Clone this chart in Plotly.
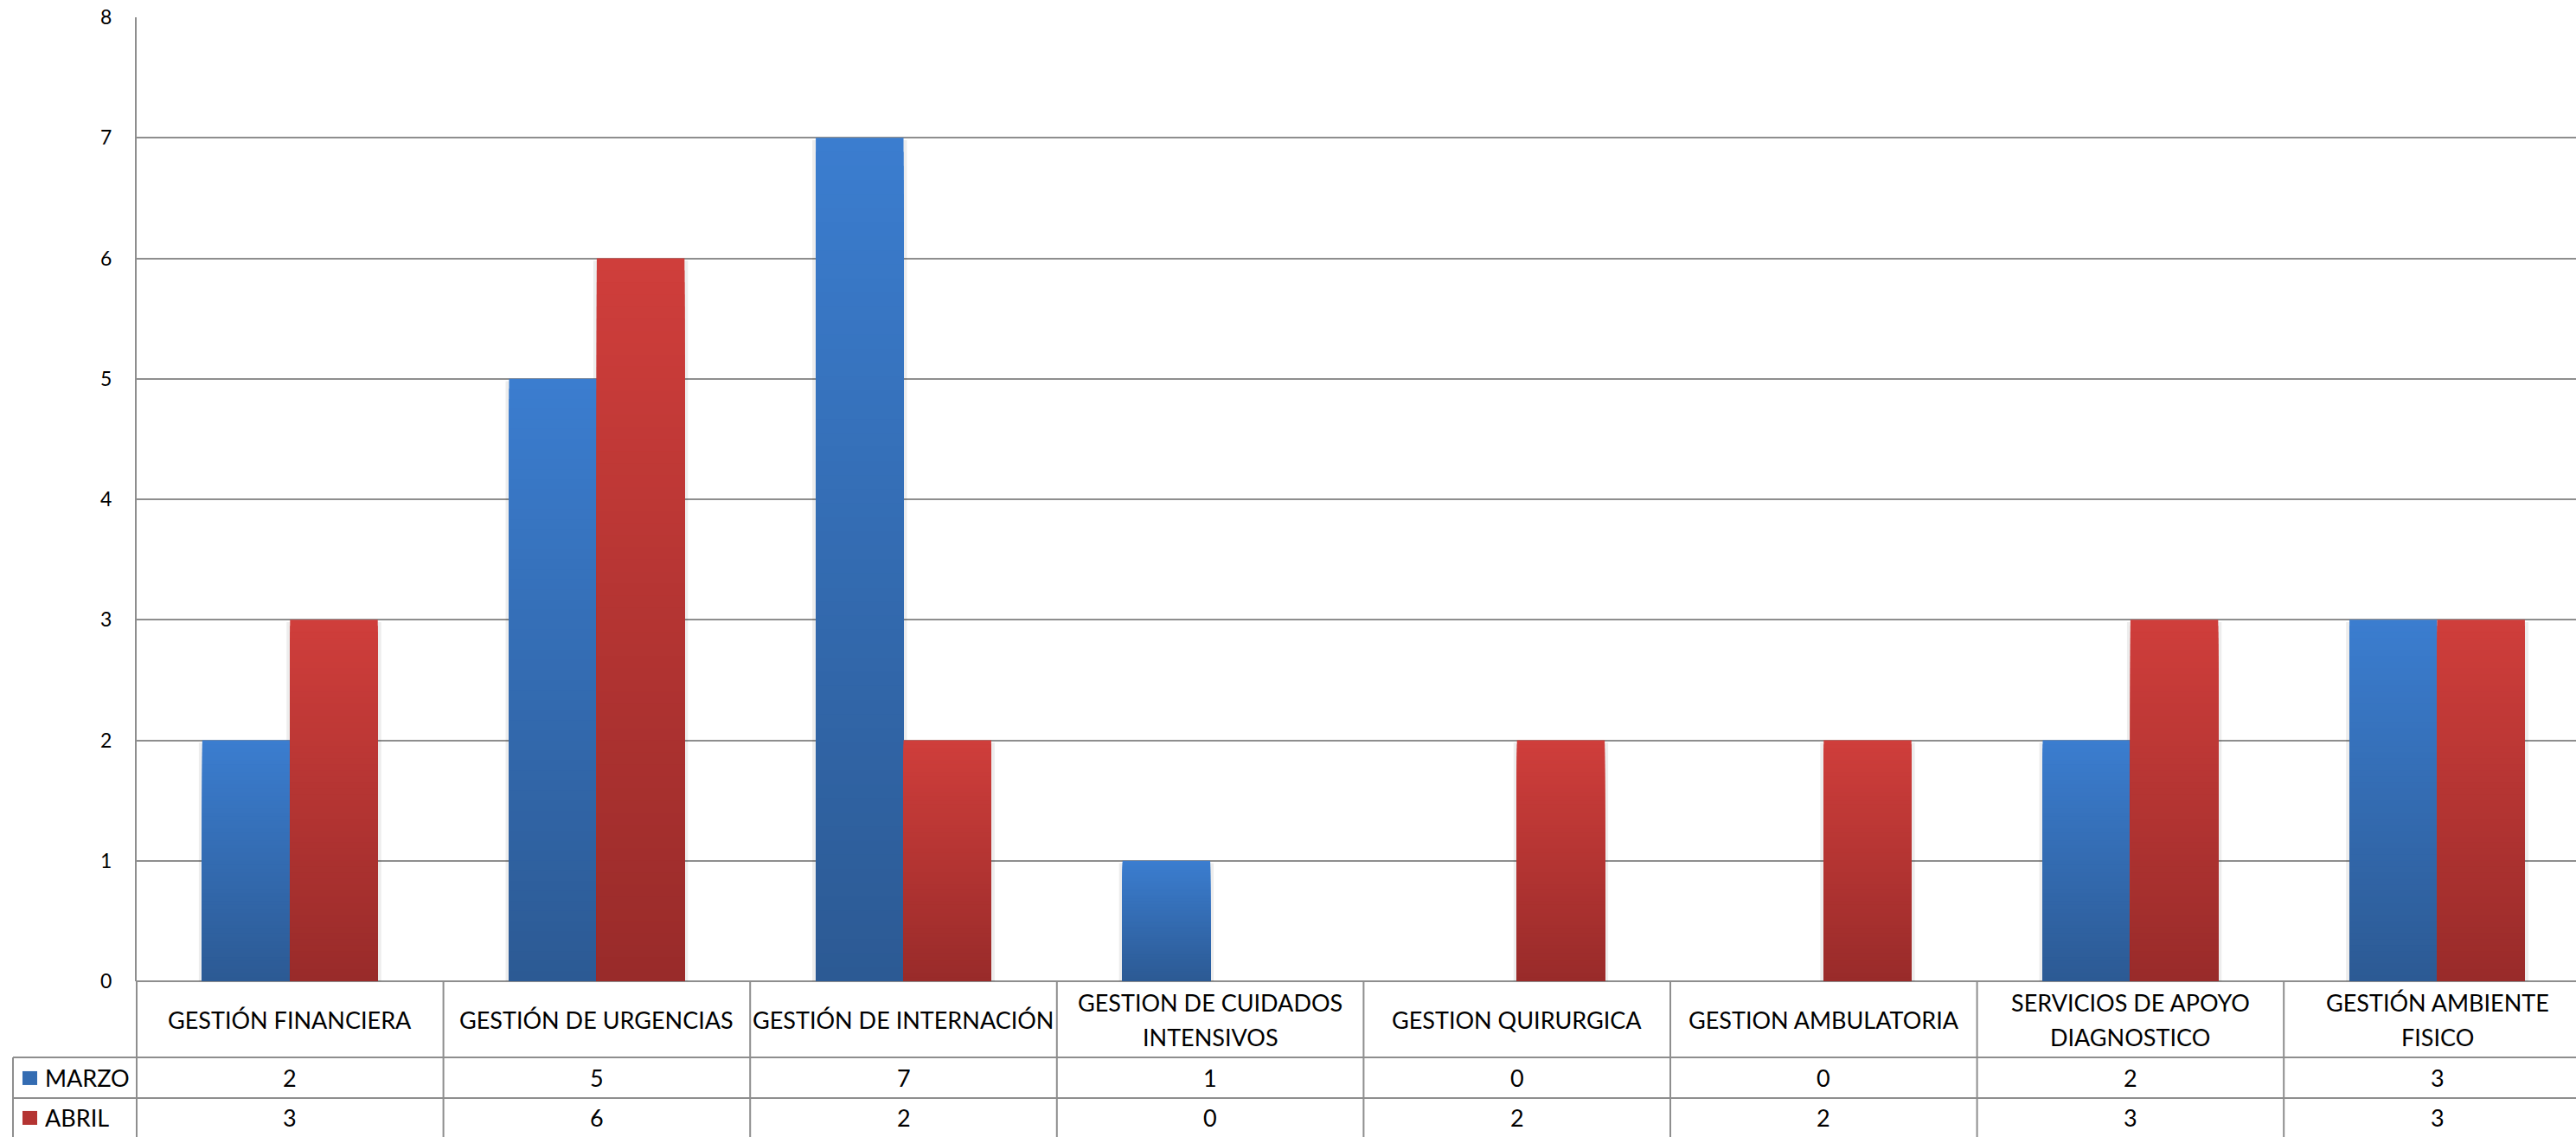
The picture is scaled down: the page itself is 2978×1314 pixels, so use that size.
import plotly.graph_objects as go

# --- data -------------------------------------------------------------
categories = [
    "GESTIÓN FINANCIERA",
    "GESTIÓN DE URGENCIAS",
    "GESTIÓN DE INTERNACIÓN",
    "GESTION DE CUIDADOS<br>INTENSIVOS",
    "GESTION QUIRURGICA",
    "GESTION AMBULATORIA",
    "SERVICIOS DE APOYO<br>DIAGNOSTICO",
    "GESTIÓN AMBIENTE<br>FISICO",
]
series_names = ["MARZO", "ABRIL"]
marzo = [2, 5, 7, 1, 0, 0, 2, 3]
abril = [3, 6, 2, 0, 2, 2, 3, 3]
y_ticks = [0, 1, 2, 3, 4, 5, 6, 7, 8]

# --- styling ----------------------------------------------------------
FONT = "Lato"
GRID = "#8e8e8e"
TOP = {"MARZO": (59, 125, 207), "ABRIL": (207, 62, 59)}
BOTTOM = {"MARZO": (44, 90, 148), "ABRIL": (153, 43, 42)}
TABLE_FONT = dict(family=FONT, size=27, color="black")

BAR_W = 0.286          # bar width in category units (gap width 150%)
N_STEPS = 60           # vertical gradient resolution

# plot area in pixels: left 158, right 2978, top 19.5, bottom 1134
PX_L, PX_R, PX_T, PX_B = 158, 2978, 19.5, 1134
PW, PH = PX_R - PX_L, PX_B - PX_T
CAT_PX = 354.6


def px_x(px):
    return (px - PX_L) / PW


def px_y(py):
    return (PX_B - py) / PH


def mix(c1, c2, t):
    return "rgb(%d,%d,%d)" % tuple(round(a + (b - a) * t) for a, b in zip(c1, c2))


fig = go.Figure()
x_idx = list(range(len(categories)))

# soft shadow behind each pair of bars
shadow_pad = 8 / CAT_PX
for name, vals, off in [("MARZO", marzo, -BAR_W), ("ABRIL", abril, 0.0)]:
    fig.add_trace(go.Bar(
        x=x_idx, y=vals, width=BAR_W + shadow_pad, offset=off - shadow_pad / 2,
        base=[-0.02] * len(vals),
        marker=dict(color="rgba(0,0,0,0.07)", line=dict(width=0)),
        showlegend=False, hoverinfo="skip",
    ))

# gradient bars: nested overlaid bars, lighter at the top, darker at the bottom
for name, vals, off in [("MARZO", marzo, -BAR_W), ("ABRIL", abril, 0.0)]:
    for k in range(N_STEPS):
        frac = (N_STEPS - k) / N_STEPS
        fig.add_trace(go.Bar(
            x=x_idx, y=[v * frac for v in vals],
            width=BAR_W, offset=off,
            marker=dict(color=mix(TOP[name], BOTTOM[name], k / (N_STEPS - 1)),
                        line=dict(width=0)),
            name=name, showlegend=False,
            hoverinfo="skip" if k else None,
            customdata=vals, hovertemplate="%{customdata}<extra>" + name + "</extra>",
        ))

shapes = []
annotations = []
LINE = dict(color=GRID, width=2)

# data table rows (pixel positions converted to paper coords)
y_hdr_bot = px_y(1222)
y_row1_bot = px_y(1269)
y_bottom = px_y(1320)
x_leg_left = px_x(15)

shapes.append(dict(type="line", xref="paper", yref="paper", x0=x_leg_left, x1=1.01,
                   y0=y_hdr_bot, y1=y_hdr_bot, line=LINE))
shapes.append(dict(type="line", xref="paper", yref="paper", x0=x_leg_left, x1=1.01,
                   y0=y_row1_bot, y1=y_row1_bot, line=LINE))
shapes.append(dict(type="line", xref="paper", yref="paper", x0=x_leg_left, x1=x_leg_left,
                   y0=y_hdr_bot, y1=y_bottom, line=LINE))
shapes.append(dict(type="line", xref="paper", yref="paper", x0=0, x1=0,
                   y0=0, y1=y_bottom, line=LINE))
for i in range(len(categories) - 1):
    shapes.append(dict(type="line", xref="x", yref="paper", x0=i + 0.5, x1=i + 0.5,
                       y0=0, y1=y_bottom, line=LINE))

# header labels (one annotation per text line, 40 px line pitch)
LINE_PITCH = 40
for i, cat in enumerate(categories):
    lines = cat.split("<br>")
    n = len(lines)
    for j, txt in enumerate(lines):
        cy = 1179 + (j - (n - 1) / 2) * LINE_PITCH
        annotations.append(dict(x=i, y=px_y(cy), xref="x", yref="paper", text=txt,
                                showarrow=False, yanchor="middle", xanchor="center",
                                font=TABLE_FONT))

# value rows
row_y = {"MARZO": px_y(1246), "ABRIL": px_y(1292)}
for name, vals in [("MARZO", marzo), ("ABRIL", abril)]:
    for i, v in enumerate(vals):
        annotations.append(dict(x=i, y=row_y[name], xref="x", yref="paper", text=str(v),
                                showarrow=False, yanchor="middle", xanchor="center",
                                font=TABLE_FONT))
    # legend key + series name
    cy = row_y[name]
    half = 8 / PH
    shapes.append(dict(type="rect", xref="paper", yref="paper",
                       x0=px_x(26), x1=px_x(43), y0=cy - half, y1=cy + half,
                       fillcolor=mix(TOP[name], BOTTOM[name], 0.5), line=dict(width=0)))
    annotations.append(dict(x=px_x(50), y=cy, xref="paper", yref="paper", text=name,
                            showarrow=False, xanchor="left", yanchor="middle",
                            font=TABLE_FONT))

fig.update_layout(
    width=2978, height=1314,
    margin=dict(l=PX_L, r=0, t=PX_T, b=1314 - PX_B, pad=0),
    barmode="overlay",
    plot_bgcolor="white", paper_bgcolor="white",
    showlegend=False,
    shapes=shapes, annotations=annotations,
    font=dict(family=FONT, color="black"),
)
fig.update_xaxes(
    range=[-0.5, -0.5 + PW / CAT_PX], showticklabels=False, showgrid=False,
    zeroline=False, showline=False, ticks="", fixedrange=True,
)
fig.update_yaxes(
    range=[0, 8], tickvals=y_ticks, showgrid=True, gridcolor=GRID, gridwidth=2,
    zeroline=True, zerolinecolor=GRID, zerolinewidth=2,
    showline=True, linecolor=GRID, linewidth=2,
    ticks="", ticklabelstandoff=22,
    tickfont=dict(family=FONT, size=23, color="black"),
    fixedrange=True,
)

fig.write_html("out.html")
